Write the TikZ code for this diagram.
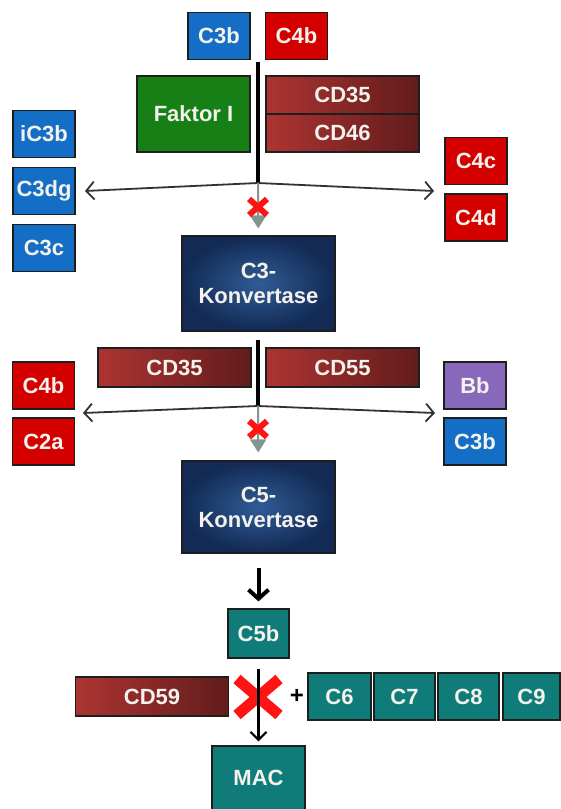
\documentclass[tikz,border=0pt]{standalone}
\usepackage{fontspec}
\setmainfont{Liberation Sans}
\usetikzlibrary{arrows.meta}

\definecolor{boxline}{RGB}{30,30,30}
\definecolor{boxtext}{RGB}{244,242,236}
\definecolor{cblue}{RGB}{20,110,198}
\definecolor{cred}{RGB}{212,0,0}
\definecolor{fgreen}{RGB}{22,128,22}
\definecolor{cteal}{RGB}{16,124,122}
\definecolor{cpurple}{RGB}{136,104,186}
\definecolor{cdlight}{RGB}{172,52,50}
\definecolor{cddark}{RGB}{98,28,28}
\definecolor{konvin}{RGB}{48,92,150}
\definecolor{konvout}{RGB}{18,42,84}
\definecolor{markgrey}{RGB}{130,150,140}
\definecolor{xred}{RGB}{255,20,20}
\definecolor{splitgrey}{RGB}{50,50,50}

\begin{document}
\begin{tikzpicture}[x=1pt, y=-1pt,
  prot/.style={draw=boxline, line width=1.2pt, minimum width=62pt, minimum height=47pt, inner sep=0pt, text=boxtext, font=\bfseries\fontsize{22}{25}\selectfont},
  regul/.style={prot, minimum width=153pt, minimum height=39pt, left color=cdlight, right color=cddark},
  konv/.style={prot, minimum width=153pt, align=center, inner color=konvin, outer color=konvout},
  split/.style={splitgrey, line width=1.8pt, -{Straight Barb[length=8pt,width=18pt]}},
  stem/.style={black, line width=4pt}]
\useasboundingbox (0,0) rectangle (561,809);

% top: C3b / C4b and their inactivation
\node[prot, fill=cblue] (c3btop) at (219,36) {C3b};
\node[prot, fill=cred] (c4btop) at (296.5,36) {C4b};
\node[prot, fill=fgreen, minimum width=113pt, minimum height=76pt] (faktor) at (193.5,114) {Faktor I};
\node[regul, minimum height=38pt] (cd35a) at (342.5,95) {CD35};
\node[regul, minimum height=38pt] (cd46) at (342.5,133) {CD46};

\node[prot, fill=cblue] (ic3b) at (44,134) {iC3b};
\node[prot, fill=cblue] (c3dg) at (44,191) {C3dg};
\node[prot, fill=cblue] (c3c) at (44,248) {C3c};
\node[prot, fill=cred] (c4c) at (476,161) {C4c};
\node[prot, fill=cred] (c4d) at (476,217.5) {C4d};

\coordinate (t1) at (258,62);
\coordinate (j1) at (258,183);
\coordinate (l1) at (85,191);
\coordinate (r1) at (434,191);
\draw[stem] (t1) -- (j1);
\draw[split] (j1) -- (l1);
\draw[split] (j1) -- (r1);

\node[konv] (c3konv) at (258.5,283.5) [minimum height=95pt] {C3-\\Konvertase};
\draw[markgrey, line width=2pt, shorten >=7pt, -{Triangle[length=13pt,width=16pt]}] (j1) -- (c3konv);
\draw[xred, line width=6pt] (249,199) -- (267,215) (267,199) -- (249,215);

% middle: C3-Konvertase cleaved
\node[regul] (cd35b) at (174.5,367.5) {CD35};
\node[regul] (cd55) at (342.5,367.5) {CD55};
\node[prot, fill=cred] (c4bmid) at (43.5,385.5) {C4b};
\node[prot, fill=cred] (c2a) at (43.5,441.5) {C2a};
\node[prot, fill=cpurple] (bb) at (475,385.5) {Bb};
\node[prot, fill=cblue] (c3bmid) at (475,441.5) {C3b};

\coordinate (t2) at (258,340);
\coordinate (j2) at (258,406);
\coordinate (l2) at (83,413);
\coordinate (r2) at (435,413);
\draw[stem] (t2) -- (j2);
\draw[split] (j2) -- (l2);
\draw[split] (j2) -- (r2);

\node[konv] (c5konv) at (258.5,507) [minimum height=92pt] {C5-\\Konvertase};
\draw[markgrey, line width=2pt, shorten >=8pt, -{Triangle[length=13pt,width=16pt]}] (j2) -- (c5konv);
\draw[xred, line width=6pt] (249,421) -- (267,437) (267,421) -- (249,437);

% bottom: C5b and MAC
\node[prot, fill=cteal, minimum width=61pt, minimum height=49pt] (c5b) at (258.5,633.5) {C5b};
\draw[black, line width=4pt, shorten <=14pt, shorten >=7pt, -{Straight Barb[length=9pt,width=20pt]}] (c5konv) -- (c5b);

\node[regul] (cd59) at (152,696.5) {CD59};
\node[prot, fill=cteal, minimum width=63pt] (c6) at (339.5,696.5) {C6};
\node[prot, fill=cteal, minimum width=61pt] (c7) at (404.5,696.5) {C7};
\node[prot, fill=cteal, minimum width=61pt] (c8) at (468.5,696.5) {C8};
\node[prot, fill=cteal, minimum width=57pt] (c9) at (531.5,696.5) {C9};
\node[font=\bfseries\fontsize{24}{25}\selectfont] (plus) at (297,696) {+};

\node[prot, fill=cteal, minimum width=93pt, minimum height=64pt] (mac) at (258.5,778) {MAC};
\draw[xred, line width=11pt] (237,679) -- (279,715) (279,679) -- (237,715);
\draw[black, line width=2.2pt, shorten <=10pt, shorten >=4pt, -{Straight Barb[length=8pt,width=16pt]}] (c5b) -- (mac);
\end{tikzpicture}
\end{document}
